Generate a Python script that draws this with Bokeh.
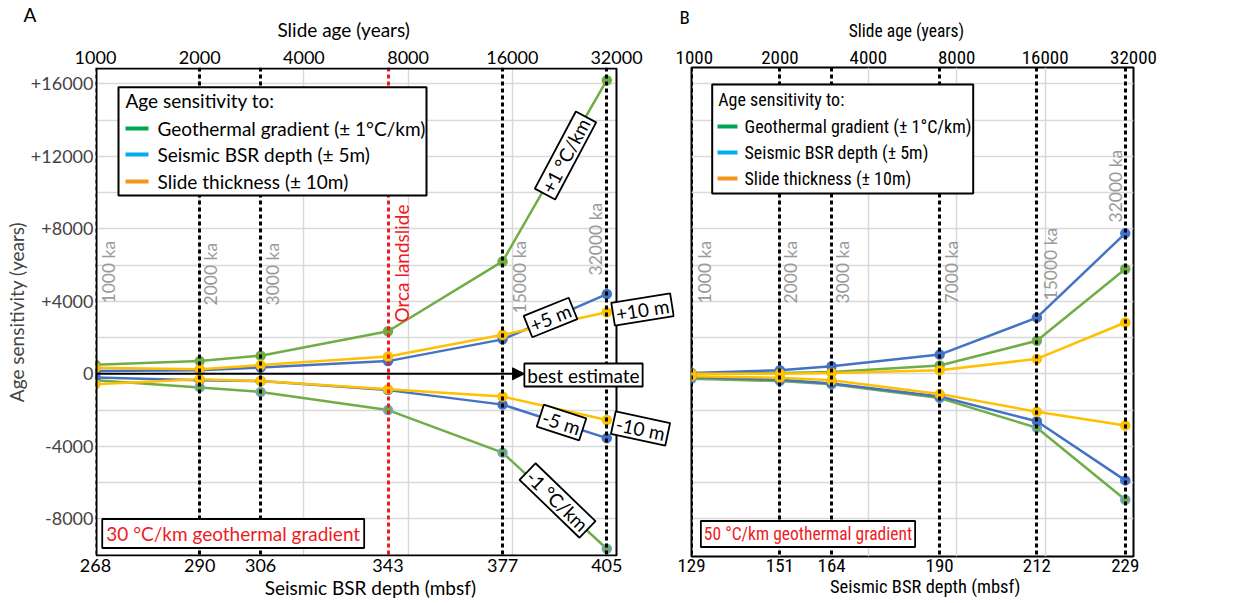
from bokeh.plotting import figure
from bokeh.models import (FixedTicker, LogAxis, Label, BoxAnnotation, Arrow, Title,
                          NormalHead, Range1d, BasicTickFormatter)
from bokeh.layouts import row
from bokeh.embed import file_html
from bokeh.resources import INLINE

# ---------------- data ----------------
ages = [1000, 2000, 3000, 7000, 15000, 30000]
age_axis_ticks = [1000, 2000, 4000, 8000, 16000, 32000]
age_axis_labels = ["1000", "2000", "4000", "8000", "16000", "32000"]
depth_A = ["268", "290", "306", "343", "377", "405"]
depth_B = ["129", "151", "164", "190", "212", "229"]
tags_A = ["1000 ka", "2000 ka", "3000 ka", "Orca landslide", "15000 ka", "32000 ka"]
tags_B = ["1000 ka", "2000 ka", "3000 ka", "7000 ka", "15000 ka", "32000 ka"]
y_ticks = [-8000, -6000, -4000, -2000, 0, 2000, 4000, 6000, 8000, 10000, 12000, 14000, 16000]
y_labels = ["-8000", "", "-4000", "", "0", "", "+4000", "", "+8000", "", "+12000", "", "+16000"]

# panel A (30 C/km)
geo_plus_A = [500, 700, 1000, 2350, 6200, 16200]
geo_minus_A = [-350, -750, -1000, -2000, -4350, -9650]
bsr_plus_A = [150, 200, 350, 700, 1900, 4400]
bsr_minus_A = [-200, -350, -400, -900, -1700, -3550]
thk_plus_A = [330, 250, 480, 950, 2150, 3400]
thk_minus_A = [-580, -300, -400, -850, -1250, -2550]

# panel B (50 C/km)
geo_plus_B = [0, 50, 100, 460, 1820, 5780]
geo_minus_B = [-270, -400, -580, -1340, -2980, -6950]
bsr_plus_B = [50, 200, 420, 1060, 3100, 7750]
bsr_minus_B = [-180, -330, -530, -1250, -2620, -5880]
thk_plus_B = [0, 0, 50, 200, 820, 2830]
thk_minus_B = [-130, -220, -360, -1120, -2090, -2850]

legend_entries = ["Geothermal gradient (\u00b1 1\u00b0C/km)", "Seismic BSR depth (\u00b1 5m)",
                  "Slide thickness (\u00b1 10m)"]

# ---------------- styling / geometry ----------------
GREEN, BLUE, ORANGE = "#70AD47", "#4472C4", "#FFC000"
LEG_COLORS = ["#00A651", "#00AEEF", "#F7941D"]
RED = "#ED1C24"
GRAY = "#9a9a9a"
FONT_A = "Lato"
FONT_B = "Roboto Condensed"
NB = "\u00a0"

TOP, FH = 67, 489
Y0, Y1 = -10080, 16900


def ypx(py):
    return Y1 - (py - TOP) / FH * (Y1 - Y0)


def make_xpx(left, w):
    def f(px):
        return 1000.0 * 32.0 ** ((px - left) / w)
    return f


def make_panel(width, bl, br, x_end, font, tick_fs, lab_fs, depth_labels, show_y,
               top_label, bottom_label):
    p = figure(width=width, height=603, x_axis_type="log",
               x_range=Range1d(1000, x_end), y_range=Range1d(Y0, Y1),
               output_backend="svg", toolbar_location=None,
               min_border_left=bl, min_border_right=br,
               min_border_top=TOP, min_border_bottom=603 - TOP - FH)
    p.background_fill_color = "white"
    p.border_fill_color = "white"

    xa = p.xaxis[0]
    xa.ticker = FixedTicker(ticks=ages)
    xa.formatter = BasicTickFormatter(use_scientific=False)
    xa.major_label_overrides = {t: s for t, s in zip(ages, depth_labels)}
    xa.axis_label = bottom_label

    top = LogAxis(ticker=FixedTicker(ticks=age_axis_ticks),
                  formatter=BasicTickFormatter(use_scientific=False),
                  axis_label=top_label)
    top.major_label_overrides = {t: s for t, s in zip(age_axis_ticks, age_axis_labels)}
    p.add_layout(top, "above")

    for ax in (xa, top):
        ax.axis_line_color = None
        ax.major_tick_line_color = None
        ax.minor_tick_line_color = None
        ax.major_tick_out = 0
        ax.major_tick_in = 0
        ax.major_label_text_font = font
        ax.major_label_text_font_size = tick_fs
        ax.major_label_text_color = "black"
        ax.axis_label_text_font = font
        ax.axis_label_text_font_size = lab_fs
        ax.axis_label_text_font_style = "normal"
        ax.axis_label_text_color = "black"
    xa.major_label_standoff = 2
    xa.axis_label_standoff = 1
    top.major_label_standoff = 4
    top.axis_label_standoff = 7

    ya = p.yaxis[0]
    ya.ticker = FixedTicker(ticks=y_ticks)
    ya.major_label_overrides = {t: s for t, s in zip(y_ticks, y_labels)}
    ya.axis_line_color = None
    ya.major_tick_line_color = None
    ya.minor_tick_line_color = None
    ya.major_tick_out = 0
    ya.major_tick_in = 0
    ya.major_label_text_font = font
    ya.major_label_text_font_size = tick_fs
    ya.major_label_standoff = 2
    ya.axis_label = "Age sensitivity (years)"
    ya.axis_label_text_font = font
    ya.axis_label_text_font_size = lab_fs
    ya.axis_label_text_font_style = "normal"
    ya.axis_label_standoff = 0
    if not show_y:
        ya.visible = False

    p.xgrid.ticker = FixedTicker(ticks=age_axis_ticks)
    p.ygrid.ticker = FixedTicker(ticks=y_ticks)
    for g in (p.xgrid, p.ygrid):
        g.grid_line_color = "#d9d9d9"
        g.grid_line_width = 1.5
    return p, xa, top


def panel_title(p, text, font, offset):
    p.add_layout(Title(text=text, align="left", offset=offset, standoff=-22,
                       text_font=font, text_font_size="19px", text_font_style="normal",
                       text_color="black"), "above")


def draw_curves(p, gp, gm, bp, bm, tp, tm):
    for vals, col in [(gp, GREEN), (gm, GREEN), (bp, BLUE), (bm, BLUE), (tp, ORANGE), (tm, ORANGE)]:
        p.line(ages, vals, line_color=col, line_width=2.5)
    for vals, col, edge in [(gp, GREEN, GREEN), (gm, GREEN, "#6FA8DC"), (bp, BLUE, BLUE),
                            (bm, BLUE, BLUE), (tp, ORANGE, ORANGE), (tm, ORANGE, ORANGE)]:
        p.scatter(ages, vals, size=9, fill_color=col, line_color=edge, line_width=1.5)


def legend(p, xpx, font, fs, box, title_xy, sw, text_x, ys):
    l, r, t, b = box
    p.add_layout(BoxAnnotation(left=xpx(l), right=xpx(r), top=ypx(t), bottom=ypx(b),
                               fill_color="white", fill_alpha=1.0,
                               line_color="black", line_width=2, line_alpha=1.0))
    p.add_layout(Label(x=xpx(title_xy[0]), y=ypx(title_xy[1]), text="Age sensitivity to:",
                       text_font=font, text_font_size=fs, text_baseline="middle",
                       text_align="left", text_color="black"))
    for txt, col, yy in zip(legend_entries, LEG_COLORS, ys):
        p.add_layout(BoxAnnotation(left=xpx(sw[0]), right=xpx(sw[1]), top=ypx(yy - 2),
                                   bottom=ypx(yy + 2), fill_color=col, fill_alpha=1.0,
                                   line_color=None))
        p.add_layout(Label(x=xpx(text_x), y=ypx(yy), text=txt, text_font=font,
                           text_font_size=fs, text_baseline="middle", text_align="left",
                           text_color="black"))


def boxed(p, x, y, text, angle, font, fs, color="black", pad=None):
    p.add_layout(Label(x=x, y=y, text=text, angle=angle, angle_units="deg",
                       text_font=font, text_font_size=fs, text_color=color,
                       text_align="center", text_baseline="middle",
                       background_fill_color="white", background_fill_alpha=1.0,
                       border_line_color="black", border_line_width=1.8, border_line_alpha=1.0,
                       padding=pad if pad is not None else dict(left=3, right=3, top=0, bottom=0)))


# ================= Panel A =================
# The drawing frame reaches past the panel edge (x=616) so that the
# labels "+10 m", "best estimate" and "-10 m" are not clipped; the visible
# panel border is drawn as a box.
xA = make_xpx(95, 521)
pA, botA, topA = make_panel(675, 95, 1, xA(674), FONT_A, "18px", "19px", depth_A, True,
                            "Slide age (years)" + NB * 17, "Seismic BSR depth (mbsf)" + NB * 6)
pA.outline_line_color = None
panel_title(pA, "A", FONT_A, -72)
draw_curves(pA, geo_plus_A, geo_minus_A, bsr_plus_A, bsr_minus_A, thk_plus_A, thk_minus_A)
blackA = [a for a, t in zip(ages, tags_A) if t != "Orca landslide"]
redA = [a for a, t in zip(ages, tags_A) if t == "Orca landslide"]
pA.vspan(x=blackA, line_color="black", line_width=3, line_dash="4 3")
pA.vspan(x=redA, line_color=RED, line_width=3, line_dash="4 3")

# white area right of the panel border, then the border itself
pA.add_layout(BoxAnnotation(left=32000, right=xA(700), top=Y1 + 2000, bottom=Y0 - 2000,
                            fill_color="white", fill_alpha=1.0, line_color=None))
pA.add_layout(BoxAnnotation(left=xA(96), right=32000, top=ypx(68), bottom=ypx(555),
                            fill_alpha=0.0, line_color="black", line_width=2, line_alpha=1.0))

pA.add_layout(Arrow(end=NormalHead(size=12, fill_color="black", line_color="black"),
                    x_start=1000, y_start=0, x_end=xA(524), y_end=0,
                    line_color="black", line_width=2))

offsA = [13, 11, 12, 13, 17, -11]
startsA = [303, 305, 305, 322, 313, 275]
for a, t, o, s in zip(ages, tags_A, offsA, startsA):
    red = t == "Orca landslide"
    pA.add_layout(Label(x=a, y=ypx(s), x_offset=o, text=t, angle=90, angle_units="deg",
                        text_font=FONT_A, text_font_size="19px" if red else "17.5px",
                        text_color=RED if red else GRAY, text_align="left",
                        text_baseline="middle"))

legend(pA, xA, FONT_A, "19px", (118, 426, 86.7, 195), (125, 100), (125, 148), 157, [128, 154, 181])

boxed(pA, xA(565), ypx(155), "+1 \u00b0C/km", 62, FONT_A, "19px")
boxed(pA, xA(550), ypx(317), "+5 m", 22, FONT_A, "19px")
boxed(pA, xA(642), ypx(309), "+10 m", 9, FONT_A, "19px")
boxed(pA, xA(583), ypx(374.5), "best estimate", 0, FONT_A, "19px")
boxed(pA, xA(561), ypx(422), "-5 m", -18, FONT_A, "19px")
boxed(pA, xA(640), ypx(428), "-10 m", -12, FONT_A, "19px")
boxed(pA, xA(557), ypx(500), "-1 \u00b0C/km", -44, FONT_A, "19px")
boxed(pA, xA(232.7), ypx(533), "30 \u00b0C/km geothermal gradient", 0, FONT_A, "19px",
      color=RED, pad=dict(left=4, right=4, top=3, bottom=3))

# ================= Panel B =================
xB = make_xpx(16, 442)
pB, botB, topB = make_panel(580, 16, 122, 32000, FONT_B, "19px", "17.5px", depth_B, False,
                            "Slide age (years)" + NB * 3, NB * 6 + "Seismic BSR depth (mbsf)")
botB.axis_label_text_font_size = "18.5px"
pB.outline_line_color = "black"
pB.outline_line_width = 2
pB.outline_line_alpha = 1.0
panel_title(pB, "B", FONT_B, -12)
draw_curves(pB, geo_plus_B, geo_minus_B, bsr_plus_B, bsr_minus_B, thk_plus_B, thk_minus_B)
pB.vspan(x=ages, line_color="black", line_width=3, line_dash="4 3")

offsB = [13, 11, 11, 12, 14, -10]
startsB = [303, 303, 303, 303, 300, 222]
for a, t, o, s in zip(ages, tags_B, offsB, startsB):
    pB.add_layout(Label(x=a, y=ypx(s), x_offset=o, text=t, angle=90, angle_units="deg",
                        text_font=FONT_A, text_font_size="17.5px",
                        text_color=GRAY, text_align="left", text_baseline="middle"))

legend(pB, xB, FONT_B, "18px", (711.7 - 675, 972.7 - 675, 84, 193), (717.7 - 675, 99),
       (717 - 675, 737 - 675), 744 - 675, [126, 152, 178])

boxed(pB, xB(807.5 - 675), ypx(533.5), "50 \u00b0C/km geothermal gradient", 0, FONT_B, "17.5px",
      color=RED, pad=dict(left=3, right=3, top=3, bottom=3))

layout = row(pA, pB)
open("out.html", "w").write(file_html(layout, INLINE))
